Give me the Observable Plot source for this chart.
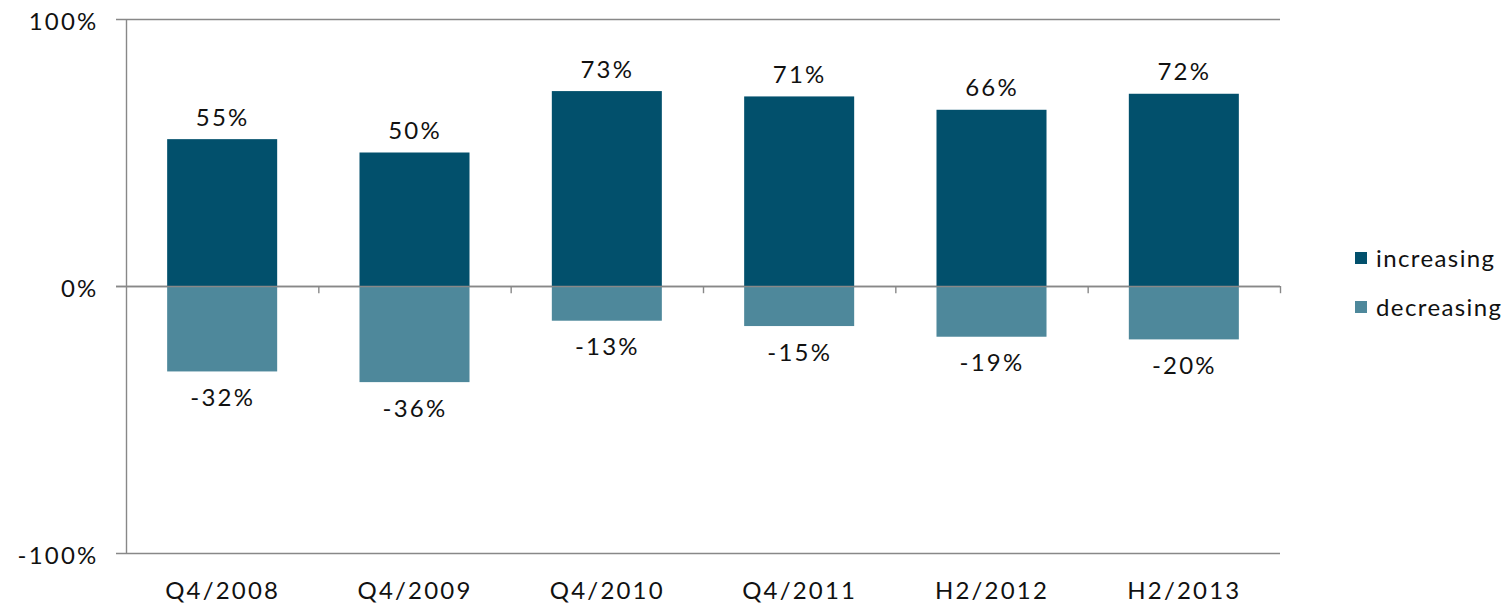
<!DOCTYPE html>
<html><head><meta charset="utf-8">
<script src="https://cdn.jsdelivr.net/npm/d3@7"></script>
<script src="https://cdn.jsdelivr.net/npm/@observablehq/plot@0.6"></script>
<style>
body{margin:0;background:#fff;font-family:Lato,"Open Sans",sans-serif;}
#wrap{position:relative;width:1512px;height:608px;}
#wrap svg text{letter-spacing:2.2px;}
#legend{position:absolute;left:1355px;top:233px;font-size:24px;color:#111;line-height:49px;letter-spacing:1.4px;}
#legend .item{display:flex;align-items:center;}
#legend .sw{width:12px;height:12px;margin-right:9px;}
</style>
</head><body>
<div id="wrap"><div id="legend"></div></div>
<script>
const categories = ["Q4/2008","Q4/2009","Q4/2010","Q4/2011","H2/2012","H2/2013"];
const increasing = [55,50,73,71,66,72];
const decreasing = [-32,-36,-13,-15,-19,-20];
const seriesNames = ["increasing","decreasing"];
const colors = ["#02506c","#4e889b"];
const yTicks = [-1,0,1];

const gray = "#888888";
const half = 0.286;
const inc = categories.map((c,i)=>({i, cat:c, v:increasing[i]/100}));
const dec = categories.map((c,i)=>({i, cat:c, v:decreasing[i]/100}));
const fmt = v => d3.format(".0%")(v).replace("\u2212","-");

const chart = Plot.plot({
  width:1512, height:608,
  marginLeft:126, marginRight:232, marginTop:19, marginBottom:55,
  style:{fontFamily:"Lato, 'Open Sans', sans-serif", fontSize:"24px", color:"#111"},
  x:{domain:[0,categories.length], axis:null},
  y:{domain:[-1,1], axis:null},
  marks:[
    Plot.ruleY(yTicks,{stroke:gray, strokeWidth:1.4, x1:0, x2:categories.length, insetLeft:-10}),
    Plot.ruleX([0],{stroke:gray, strokeWidth:1.4}),
    Plot.rectY(inc,{x1:d=>d.i+0.5-half, x2:d=>d.i+0.5+half, y1:0, y2:"v", fill:colors[0]}),
    Plot.rectY(dec,{x1:d=>d.i+0.5-half, x2:d=>d.i+0.5+half, y1:0, y2:"v", fill:colors[1]}),
    Plot.ruleY(yTicks.filter(d=>d===0),{stroke:gray, strokeWidth:1.4, x1:0, x2:categories.length, insetLeft:-10}),
    Plot.ruleX(d3.range(1,categories.length+1),{y1:0, y2:-0.027, stroke:gray, strokeWidth:1.4}),
    Plot.text(inc,{x:d=>d.i+0.5, y:"v", text:d=>fmt(d.v), lineAnchor:"bottom", dy:-14, fontSize:24}),
    Plot.text(dec,{x:d=>d.i+0.5, y:"v", text:d=>fmt(d.v), lineAnchor:"top", dy:17, fontSize:24}),
    Plot.text(yTicks,{y:d=>d, frameAnchor:"left", text:d=>fmt(d), textAnchor:"end", dx:-28, dy:3, fontSize:24}),
    Plot.text(categories,{x:(d,i)=>i+0.5, frameAnchor:"bottom", text:d=>d, lineAnchor:"middle", dy:38, fontSize:24})
  ]
});
document.getElementById("wrap").prepend(chart);
const lg = d3.select("#legend");
seriesNames.forEach((s,k)=>{
  const it = lg.append("div").attr("class","item");
  it.append("div").attr("class","sw").style("background",colors[k]);
  it.append("span").text(s);
});
</script>
</body></html>
